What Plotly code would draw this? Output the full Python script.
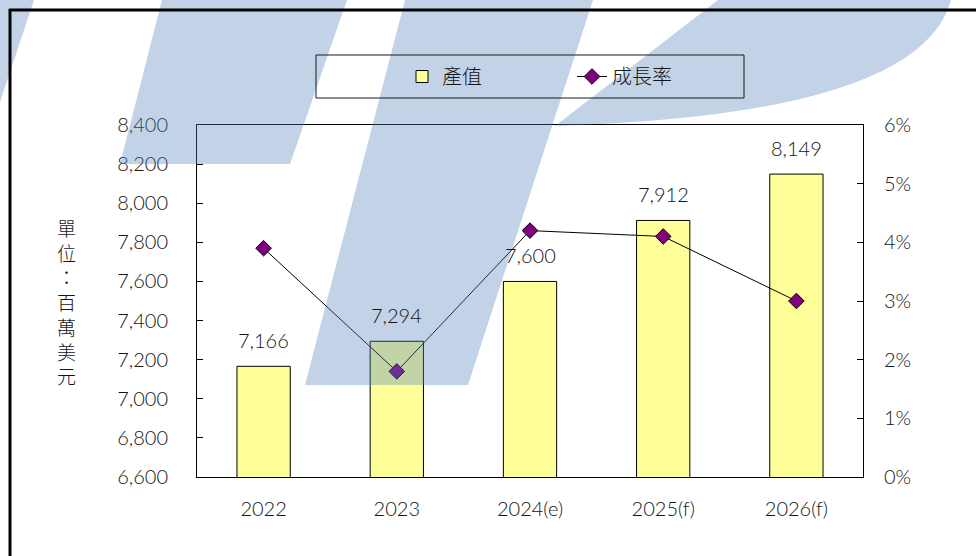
import plotly.graph_objects as go

# ---------------- data ----------------
categories = ["2022", "2023", "2024(e)", "2025(f)", "2026(f)"]
output_values = [7166, 7294, 7600, 7912, 8149]          # 產值 (百萬美元)
growth_rates = [0.039, 0.018, 0.042, 0.041, 0.030]      # 成長率
left_ticks = list(range(6600, 8401, 200))
right_ticks = [0.00, 0.01, 0.02, 0.03, 0.04, 0.05, 0.06]

# ---------------- layout geometry ----------------
W, H = 976, 556
L, T, R, B = 197, 125, 863, 477


def px(x):
    return (x - L) / (R - L)


def py(y):
    return (B - y) / (B - T)


FONT = "Lato, 'Noto Sans CJK TC', sans-serif"
CJK = "'Noto Sans CJK TC', sans-serif"
TXT = "#151515"
WT = 300

fig = go.Figure()

fig.add_trace(go.Bar(
    x=categories, y=output_values, name="產值",
    marker=dict(color="#FFFF99", line=dict(color="#000000", width=1)),
    width=0.4, yaxis="y",
))

fig.add_trace(go.Scatter(
    x=categories, y=growth_rates, name="成長率", yaxis="y2",
    mode="lines+markers",
    line=dict(color="#000000", width=1),
    marker=dict(symbol="diamond", size=12, color="#800080",
                line=dict(color="#000000", width=1)),
))

annotations = []
for i, v in enumerate(output_values):
    annotations.append(dict(
        x=i, y=v, xref="x", yref="y", text=f"{v:,}", showarrow=False,
        yanchor="bottom", yshift=12,
        font=dict(family=FONT, size=20, color=TXT, weight=WT)))

annotations.append(dict(
    x=px(55), y=py(301), xref="paper", yref="paper",
    text="<br>".join(list("單位：百萬美元")), showarrow=False,
    font=dict(family=CJK, size=19, color=TXT, weight=WT), align="center"))


def path(points, close=True):
    s = "M " + " L ".join(f"{px(x):.5f},{py(y):.5f}" for x, y in points)
    return s + (" Z" if close else "")


WM = "rgba(79,129,189,0.35)"
shapes = []
# watermark (background logo) drawn over the chart like in the source image
for poly in [
    [(0, 0), (34, 0), (0, 102)],
    [(162, 0), (347, 0), (290, 164), (120, 164)],
    [(405, 0), (593, 0), (468, 385), (305, 385)],
]:
    shapes.append(dict(type="path", path=path(poly), xref="paper", yref="paper",
                       fillcolor=WM, line=dict(width=0), layer="above"))
# swoosh
swoosh = (f"M {px(718):.5f},{py(0):.5f} L {px(951):.5f},{py(0):.5f} "
          f"Q {px(920):.5f},{py(115):.5f} {px(555):.5f},{py(126):.5f} Z")
shapes.append(dict(type="path", path=swoosh, xref="paper", yref="paper",
                   fillcolor=WM, line=dict(width=0), layer="above"))

# outer frame
shapes.append(dict(type="line", xref="paper", yref="paper", x0=px(9), x1=px(990),
                   y0=py(10), y1=py(10), line=dict(color="#000000", width=3), layer="above"))
shapes.append(dict(type="line", xref="paper", yref="paper", x0=px(10), x1=px(10),
                   y0=py(9), y1=py(570), line=dict(color="#000000", width=3), layer="above"))
# legend box
shapes.append(dict(type="rect", xref="paper", yref="paper", x0=px(316), x1=px(744),
                   y0=py(98), y1=py(55), line=dict(color="#1a1a1a", width=1), layer="above"))

tickfont = dict(family=FONT, size=20, color=TXT, weight=WT)

fig.update_layout(
    width=W, height=H,
    margin=dict(l=L, r=W - R, t=T, b=H - B, pad=0),
    paper_bgcolor="white", plot_bgcolor="white",
    font=dict(family=FONT, size=20, color=TXT),
    showlegend=True,
    legend=dict(orientation="h", x=px(402), y=py(57), xanchor="left", yanchor="top",
                bgcolor="rgba(0,0,0,0)", borderwidth=0,
                font=dict(family=CJK, size=20, color=TXT, weight=WT),
                entrywidth=125, entrywidthmode="pixels", traceorder="normal"),
    xaxis=dict(type="category", categoryorder="array", categoryarray=categories,
               range=[-0.5, len(categories) - 0.5],
               showline=True, linecolor="#000000", linewidth=1, mirror=True,
               ticks="", showgrid=False, ticklabelstandoff=14, tickfont=tickfont),
    yaxis=dict(range=[6600, 8400], tickvals=left_ticks,
               ticktext=[f"{v:,}" for v in left_ticks],
               showline=True, linecolor="#000000", linewidth=1, mirror=True,
               ticks="inside", ticklen=6, tickcolor="#000000",
               showgrid=False, zeroline=False, ticklabelstandoff=24, tickfont=tickfont),
    yaxis2=dict(range=[0, 0.06], tickvals=right_ticks,
                ticktext=[f"{round(v*100)}%" for v in right_ticks],
                overlaying="y", side="right",
                showline=True, linecolor="#000000", linewidth=1,
                ticks="inside", ticklen=6, tickcolor="#000000",
                showgrid=False, zeroline=False, ticklabelstandoff=16, tickfont=tickfont),
    annotations=annotations,
    shapes=shapes,
)

fig.write_html("out.html")
